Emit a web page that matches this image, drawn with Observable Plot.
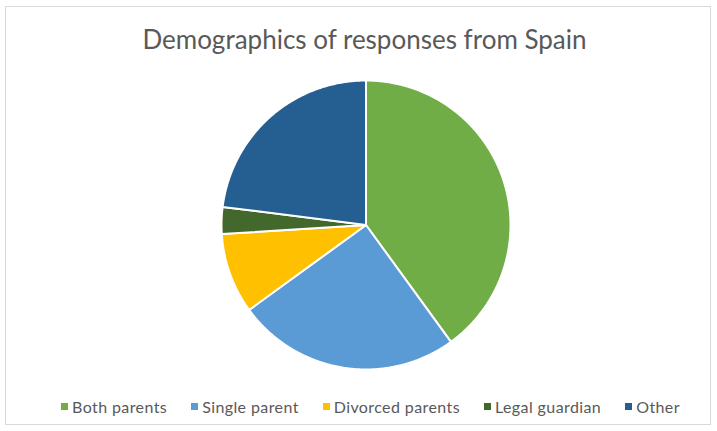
<!DOCTYPE html>
<html>
<head>
<meta charset="utf-8">
<script src="https://cdn.jsdelivr.net/npm/d3@7"></script>
<script src="https://cdn.jsdelivr.net/npm/@observablehq/plot@0.6"></script>
<style>
  html, body { margin: 0; padding: 0; background: #fff; }
  #frame { position: absolute; left: 5px; top: 6px; width: 706px; height: 419px; border: 1px solid #d9d9d9; box-sizing: border-box; }
  #title { position: absolute; left: 0; top: 23px; width: 729px; text-align: center; font-family: Lato, "Open Sans", sans-serif; font-size: 26px; color: #595959; }
  #chart { position: absolute; left: 0; top: 70px; }
  #legend { position: absolute; left: 0; top: 397px; width: 741px; display: flex; justify-content: center; font-family: Lato, "Open Sans", sans-serif; font-size: 16px; letter-spacing: 0.4px; color: #595959; }
  .item { display: flex; align-items: center; margin: 0 12px; }
  .sw { width: 7px; height: 7px; margin-right: 4px; }
</style>
</head>
<body>
<div id="frame"></div>
<div id="title">Demographics of responses from Spain</div>
<div id="chart"></div>
<div id="legend"></div>
<script>
const categories = ["Both parents", "Single parent", "Divorced parents", "Legal guardian", "Other"];
const values = [40, 25, 9, 3, 23];
const colors = ["#70AD47", "#5B9BD5", "#FFC000", "#43682B", "#255E91"];

const total = d3.sum(values);
const rows = [];
let start = 0;
categories.forEach((c, i) => {
  const a0 = start / total * 2 * Math.PI;
  const a1 = (start + values[i]) / total * 2 * Math.PI;
  start += values[i];
  rows.push({cat: c, x: 0, y: 0});
  const n = Math.max(4, Math.ceil((a1 - a0) / (Math.PI / 360)));
  for (let k = 0; k <= n; k++) {
    const a = a0 + (a1 - a0) * k / n;
    rows.push({cat: c, x: Math.sin(a), y: Math.cos(a)});
  }
  rows.push({cat: c, x: 0, y: 0});
});

const cx = 365.5, cy = 154.5, r = 144.5;
const plot = Plot.plot({
  width: 717,
  height: 310,
  margin: 0,
  x: {domain: [-1, 1], range: [cx - r, cx + r], axis: null},
  y: {domain: [-1, 1], range: [cy + r, cy - r], axis: null},
  color: {domain: categories, range: colors},
  marks: [
    Plot.line(rows, {x: "x", y: "y", z: "cat", fill: "cat", stroke: "white", strokeWidth: 2, strokeLinejoin: "round", curve: "linear"})
  ]
});
document.getElementById("chart").appendChild(plot);

const legend = document.getElementById("legend");
categories.forEach((c, i) => {
  const item = document.createElement("div");
  item.className = "item";
  const sw = document.createElement("div");
  sw.className = "sw";
  sw.style.background = colors[i];
  item.appendChild(sw);
  const t = document.createElement("span");
  t.textContent = c;
  item.appendChild(t);
  legend.appendChild(item);
});
</script>
</body>
</html>
